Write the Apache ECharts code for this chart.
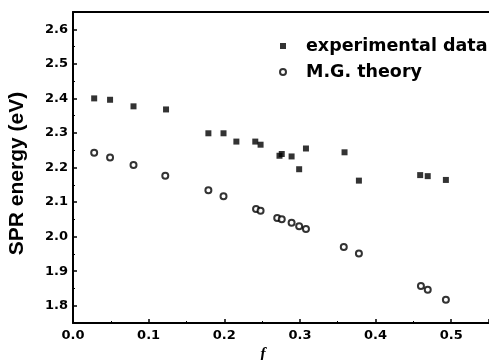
<!DOCTYPE html>
<html>
<head>
<meta charset="utf-8">
<script src="https://cdn.jsdelivr.net/npm/echarts@6/dist/echarts.min.js"></script>
<style>
    html, body {margin: 0; padding: 0; background: #fff;}
    #chart {width: 489px; height: 360px;}
</style>
</head>
<body>
<div id="chart"></div>
<script>
// experimental data
const fExp = [0.028, 0.049, 0.080, 0.123, 0.179, 0.199, 0.216, 0.241, 0.248, 0.273,
    0.276, 0.289, 0.299, 0.308, 0.359, 0.378, 0.459, 0.469, 0.493];
const energyExp = [2.400, 2.396, 2.377, 2.368, 2.299, 2.299, 2.275, 2.275, 2.266, 2.234,
    2.239, 2.232, 2.195, 2.255, 2.244, 2.162, 2.178, 2.175, 2.164];

// Maxwell-Garnett theory
const fTheory = [0.028, 0.049, 0.080, 0.122, 0.179, 0.199, 0.242, 0.248, 0.270, 0.276,
    0.289, 0.299, 0.308, 0.358, 0.378, 0.460, 0.469, 0.493];
const energyTheory = [2.243, 2.229, 2.207, 2.176, 2.134, 2.117, 2.080, 2.075, 2.054, 2.050,
    2.040, 2.030, 2.022, 1.970, 1.951, 1.857, 1.846, 1.817];

const seriesNames = ['experimental data', 'M.G. theory'];

const pairs = (xs, ys) => xs.map((x, i) => [x, ys[i]]);

const myChart = echarts.init(document.getElementById('chart'));
let option;

const labelFont = {
    fontFamily: 'DejaVu Sans',
    fontWeight: 'bold',
    fontSize: 13,
    color: '#000'
};

option = {
    backgroundColor: '#fff',
    animation: false,
    grid: {left: 73, right: 0, top: 12, bottom: 37, outerBoundsMode: 'none'},
    legend: {
        data: seriesNames,
        orient: 'vertical',
        left: 279,
        top: 37,
        padding: 0,
        itemWidth: 6,
        itemHeight: 6,
        itemGap: 8,
        textStyle: {
            fontFamily: 'DejaVu Sans',
            fontWeight: 'bold',
            fontSize: 17.5,
            lineHeight: 18,
            color: '#000',
            padding: [0, 0, 0, 15]
        }
    },
    xAxis: [
        {
            type: 'value',
            min: 0,
            max: 0.55,
            interval: 0.1,
            name: 'f',
            nameLocation: 'middle',
            nameGap: 13,
            nameTextStyle: {
                fontFamily: 'Liberation Serif',
                fontWeight: 'bold',
                fontStyle: 'italic',
                fontSize: 16,
                color: '#000',
                padding: [0, 36, 0, 0]
            },
            axisLine: {lineStyle: {color: '#000', width: 2}},
            axisTick: {inside: true, length: 4, lineStyle: {color: '#000', width: 1.5}},
            minorTick: {show: true, splitNumber: 2, length: 2, lineStyle: {color: '#000', width: 1}},
            axisLabel: Object.assign({margin: 6, showMaxLabel: false,
                formatter: v => v.toFixed(1)}, labelFont),
            splitLine: {show: false}
        },
        {
            type: 'value',
            position: 'top',
            min: 0,
            max: 0.55,
            axisLine: {show: true, lineStyle: {color: '#000', width: 2}},
            axisTick: {show: false},
            axisLabel: {show: false},
            splitLine: {show: false}
        }
    ],
    yAxis: {
        type: 'value',
        min: 1.75,
        max: 2.65,
        splitNumber: 9,
        name: 'SPR energy (eV)',
        nameLocation: 'middle',
        nameGap: 45,
        nameTextStyle: {
            fontFamily: 'Liberation Sans',
            fontWeight: 'bold',
            fontSize: 21,
            color: '#000',
            padding: [0, 12, 0, 0]
        },
        axisLine: {show: true, lineStyle: {color: '#000', width: 2}},
        axisTick: {inside: true, length: 4, lineStyle: {color: '#000', width: 1.5}},
        minorTick: {show: true, splitNumber: 2, length: 2, lineStyle: {color: '#000', width: 1}},
        axisLabel: Object.assign({margin: 5, showMinLabel: false, showMaxLabel: false,
            formatter: v => v.toFixed(1)}, labelFont),
        splitLine: {show: false}
    },
    series: [
        {
            name: seriesNames[0],
            type: 'scatter',
            symbol: 'rect',
            symbolSize: 6,
            itemStyle: {color: '#000'},
            data: pairs(fExp, energyExp)
        },
        {
            name: seriesNames[1],
            type: 'scatter',
            symbol: 'emptyCircle',
            symbolSize: 6,
            itemStyle: {color: '#000', borderColor: '#000', borderWidth: 1},
            data: pairs(fTheory, energyTheory)
        }
    ]
};
option && myChart.setOption(option);
</script>
</body>
</html>
